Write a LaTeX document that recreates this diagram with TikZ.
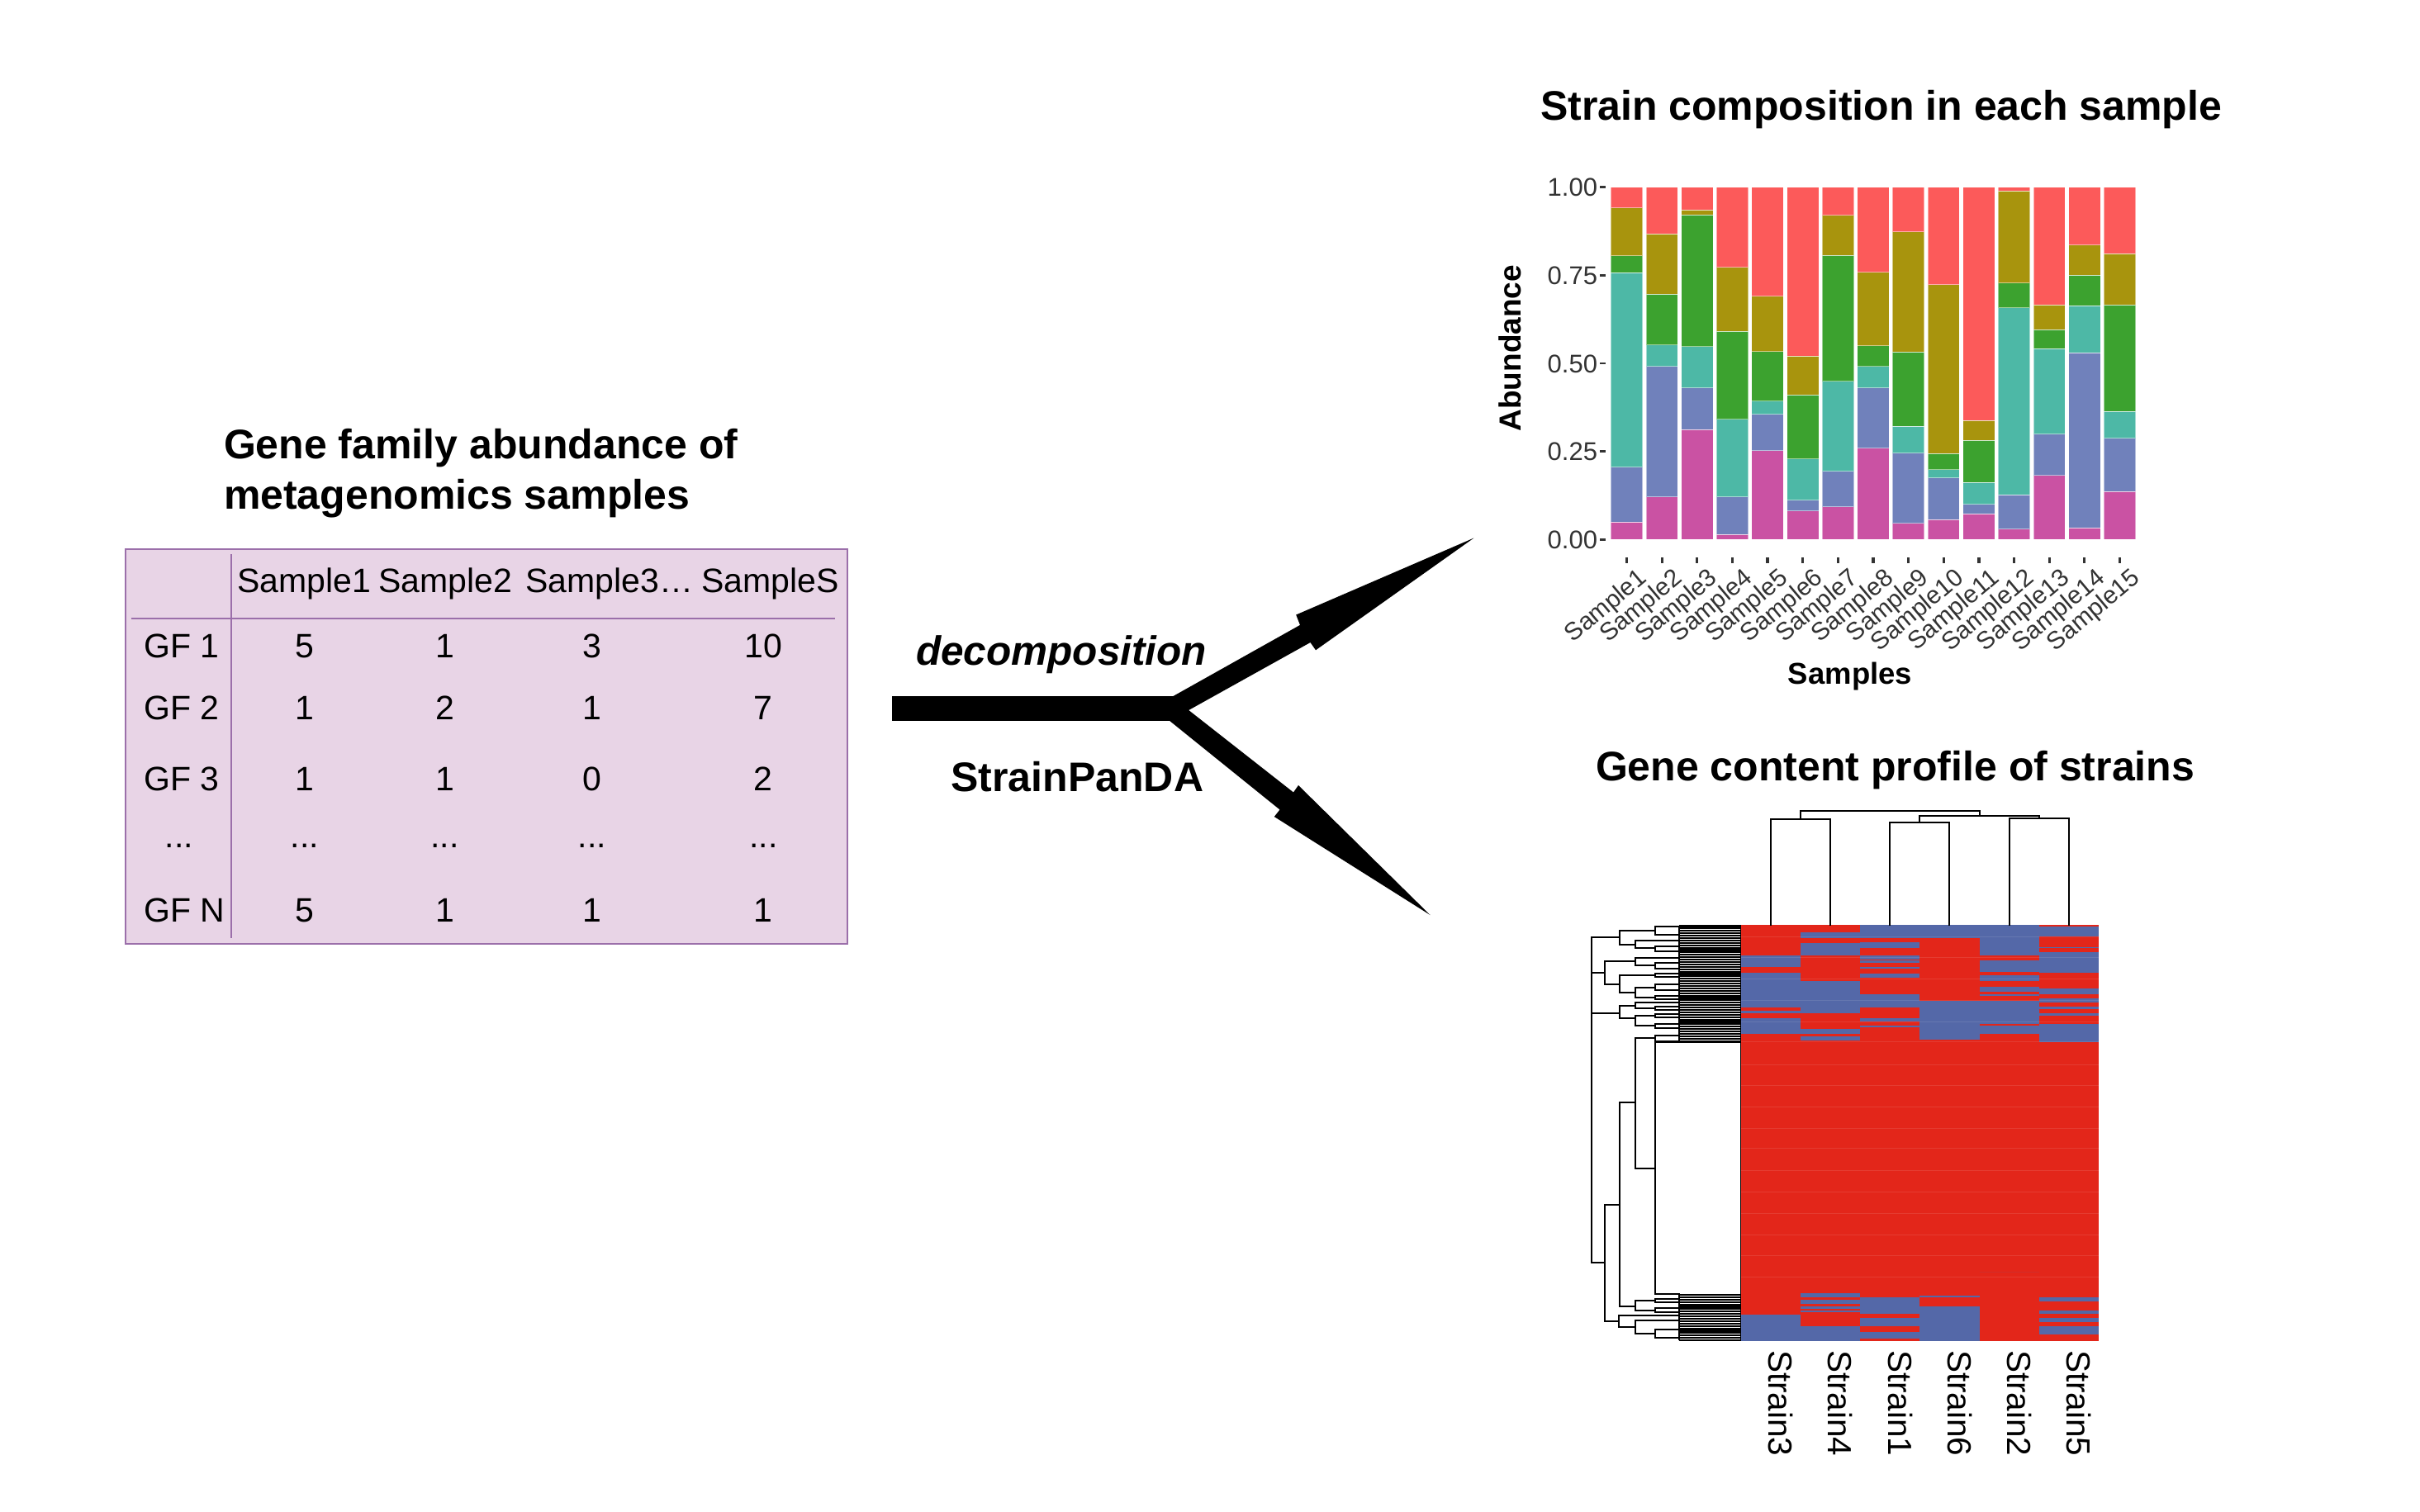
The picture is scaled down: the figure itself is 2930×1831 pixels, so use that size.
\documentclass[tikz,border=0pt]{standalone}
\usepackage{fontspec}
\setmainfont{Liberation Sans}
\newcommand\myfs[1]{\fontsize{#1pt}{#1pt}\selectfont}
\definecolor{cred}{HTML}{FC5A5A}
\definecolor{colive}{HTML}{A8940D}
\definecolor{cgreen}{HTML}{3CA22F}
\definecolor{cteal}{HTML}{4DB8A6}
\definecolor{cblue}{HTML}{7081BB}
\definecolor{cmag}{HTML}{CA52A3}
\definecolor{hred}{HTML}{E3261A}
\definecolor{hblue}{HTML}{5468A8}
\definecolor{tabfill}{HTML}{E8D4E6}
\definecolor{tabline}{HTML}{9B6FAA}
\definecolor{axgray}{HTML}{333333}
\begin{document}
\begin{tikzpicture}[x=0.5pt,y=-0.5pt,
  every node/.style={inner sep=0pt,outer sep=0pt},
  ttl/.style={font=\myfs{25}\bfseries},
  tab/.style={font=\myfs{20.5}},
  ylab/.style={font=\myfs{15.5},text=axgray,anchor=base east},
  xlab/.style={font=\myfs{15},text=axgray,anchor=north east,rotate=40},
  slab/.style={font=\myfs{20.25},anchor=base west,rotate=-90},
  dend/.style={line width=1pt,line cap=rect},
  leaf/.style={line width=1.05pt},
  seg/.style={draw=white,draw opacity=0.5,line width=0.4pt}]

\fill[white] (0,0) rectangle (2930,1831);
\useasboundingbox (0,0) rectangle (2930,1831);

% ---------------- table ----------------
\node[ttl,anchor=base west] (t1a) at (271,555.8) {Gene family abundance of};
\node[ttl,anchor=base west] (t1b) at (271,616) {metagenomics samples};
\draw[tabline,line width=1pt,fill=tabfill] (151.8,665.4) rectangle (1026,1143);
\draw[tabline,line width=1pt] (280.4,671) -- (280.4,1135.7);
\draw[tabline,line width=1pt] (158.9,749) -- (1011,749);
\node[tab,anchor=base] (h1) at (368.5,717) {Sample1};
\node[tab,anchor=base] (h2) at (539.5,717) {Sample2};
\node[tab,anchor=base] (h3) at (738,717) {Sample3…};
\node[tab,anchor=base] (h4) at (932.5,717) {SampleS};
\foreach \r/\y/\lab/\va/\vb/\vc/\vd in {1/796.4/GF 1/5/1/3/10, 2/871.5/GF 2/1/2/1/7, 3/957.4/GF 3/1/1/0/2, 5/1116.3/GF N/5/1/1/1}{
  \node[tab,anchor=base west] (r\r) at (174.2,\y) {\lab};
  \node[tab,anchor=base] (v\r a) at (368.8,\y) {\va};
  \node[tab,anchor=base] (v\r b) at (538.6,\y) {\vb};
  \node[tab,anchor=base] (v\r c) at (716.7,\y) {\vc};
  \node[tab,anchor=base] (v\r d) at (924.3,\y) {\vd};
}
\node[tab,anchor=base] (r4) at (216.7,1026) {...};
\node[tab,anchor=base] (v4a) at (368.8,1026) {...};
\node[tab,anchor=base] (v4b) at (538.6,1026) {...};
\node[tab,anchor=base] (v4c) at (716.7,1026) {...};
\node[tab,anchor=base] (v4d) at (924.3,1026) {...};

% ---------------- branching arrow ----------------
\coordinate (arrstart) at (1080,857.8);
\fill[black] (1080,843) -- (1420.5,843) -- (1574,756.9) -- (1569.2,744.5) -- (1784.5,651.5)
  -- (1593,787.3) -- (1586.5,778) -- (1439.2,860) -- (1566,959.5) -- (1572,951)
  -- (1731.5,1108) -- (1542.8,989) -- (1549.5,980.5) -- (1416,872.8) -- (1080,872.8) -- cycle;
\node[font=\myfs{24.75}\bfseries\itshape,anchor=base west] (dec) at (1109,805.5) {decomposition};
\node[font=\myfs{25}\bfseries,anchor=base west] (spd) at (1151.5,958.5) {StrainPanDA};

% ---------------- bar chart ----------------
\node[ttl,anchor=base west] (t2) at (1865,145) {Strain composition in each sample};
\foreach \i/\m/\b/\t/\g/\o in {0/0.049/0.205/0.757/0.805/0.941, 1/0.121/0.491/0.552/0.696/0.867,
  2/0.3125/0.430/0.548/0.922/0.936, 3/0.014/0.121/0.341/0.591/0.773, 4/0.252/0.355/0.393/0.534/0.691,
  5/0.081/0.112/0.229/0.410/0.521, 6/0.093/0.194/0.449/0.807/0.920, 7/0.259/0.430/0.491/0.550/0.759,
  8/0.046/0.245/0.322/0.532/0.873, 9/0.057/0.175/0.198/0.244/0.723, 10/0.073/0.100/0.1625/0.281/0.338,
  11/0.030/0.127/0.658/0.728/0.990, 12/0.182/0.299/0.542/0.595/0.666, 13/0.033/0.530/0.664/0.750/0.836,
  14/0.136/0.2875/0.363/0.666/0.811}{
  \pgfmathsetmacro\cx{1969.5+\i*42.64}
  \pgfmathsetmacro\xl{\cx-19.2}
  \pgfmathsetmacro\xr{\cx+19.2}
  \pgfmathsetmacro\ym{653.3-\m*426.6}
  \pgfmathsetmacro\yb{653.3-\b*426.6}
  \pgfmathsetmacro\yt{653.3-\t*426.6}
  \pgfmathsetmacro\yg{653.3-\g*426.6}
  \pgfmathsetmacro\yo{653.3-\o*426.6}
  \path[seg,fill=cmag] (\xl,653.3) rectangle (\xr,\ym);
  \path[seg,fill=cblue] (\xl,\ym) rectangle (\xr,\yb);
  \path[seg,fill=cteal] (\xl,\yb) rectangle (\xr,\yt);
  \path[seg,fill=cgreen] (\xl,\yt) rectangle (\xr,\yg);
  \path[seg,fill=colive] (\xl,\yg) rectangle (\xr,\yo);
  \path[seg,fill=cred] (\xl,\yo) rectangle (\xr,226.7);
  \draw[axgray,line width=1.6pt] (\cx,675) -- (\cx,682);
  \pgfmathtruncatemacro\n{\i+1}
  \node[xlab] (xl\n) at (\cx+12,686) {Sample\n};
}
\foreach \v/\lab in {0/0.00,0.25/0.25,0.5/0.50,0.75/0.75,1/1.00}{
  \pgfmathsetmacro\yy{653.3-\v*426.6}
  \draw[axgray,line width=1.4pt] (1937.4,\yy) -- (1943.5,\yy);
  \node[ylab] (yl\lab) at (1934,\yy+11) {\lab};
}
\node[font=\myfs{18.5}\bfseries,rotate=90,anchor=base] (abund) at (1841,421.7) {Abundance};
\node[font=\myfs{18.25}\bfseries,anchor=base] (samp) at (2240,828.3) {Samples};

% ---------------- heatmap ----------------
\node[ttl,anchor=base west] (t3) at (1932,945) {Gene content profile of strains};
\fill[hred] (2107.5,1120) rectangle (2541,1624.3);
\foreach \c/\tl/\bl in {
  0/{155/197,218/345,358/366,385/440}/{157/253},
  1/{73/93,112/155,249/366,423/442,449/465}/{77/93,102/118,125/135,140/148,197/253},
  2/{45/93,107/130,155/170,175/184,197/204,222/238,297/345,385/397,410/417}/{93/153,168/197,220/243},
  3/{45/93,320/461}/{87/93,125/253},
  4/{45/155,174/217,228/250,270/287,296/303,320/405,412/441}/{0/0},
  5/{52/87,125/130,144/218,275/297,312/328,343/351,366/376,405/471}/{93/107,140/153,168/184,197/228}}{
  \pgfmathsetmacro\hx{2107.5+\c*72.25}
  \pgfmathsetmacro\hxr{\hx+72.25}
  \foreach \a/\b in \tl {\fill[hblue] (\hx,{1105+\a/3}) rectangle (\hxr,{1105+\b/3});}
  \foreach \a/\b in \bl {\fill[hblue] (\hx,{1540+\a/3}) rectangle (\hxr,{1540+\b/3});}
}
\foreach \y in {1134.3,1159.3,1185,1211.7,1237.3,1261.7,1289.3,1314,1340,1366,1390.7,1417.3,1443.3,1469,1495,1520.7,1546.7}{
  \draw[white,opacity=0.1,line width=0.5pt] (2108,\y) -- (2541,\y);
}
\draw[black,line width=0.9pt] (2107.5,1120) -- (2107.5,1624.3);
\foreach \c/\s in {0/3,1/4,2/1,3/6,4/2,5/5}{
  \node[slab] (s\s) at ({2107.5+(\c+0.5)*72.25-2},1635) {Strain\s};
}
% column dendrogram
\draw[dend] (2143.6,1120) -- (2143.6,992.3) -- (2215.9,992.3) -- (2215.9,1120);
\draw[dend] (2288.1,1120) -- (2288.1,996.3) -- (2360.4,996.3) -- (2360.4,1120);
\draw[dend] (2432.6,1120) -- (2432.6,990.7) -- (2504.9,990.7) -- (2504.9,1120);
\draw[dend] (2324.25,996.3) -- (2324.25,987.7) -- (2468.75,987.7) -- (2468.75,990.7);
\draw[dend] (2179.75,992.3) -- (2179.75,982.3) -- (2396.5,982.3) -- (2396.5,987.7);

% row dendrogram: leaves
\foreach \k in {0,...,48}{\draw[leaf] (2033.3,{1121.5+2.9*\k}) -- (2107,{1121.5+2.9*\k});}
\foreach \k in {0,...,19}{\draw[leaf] (2033.3,{1568+2.9*\k}) -- (2107,{1568+2.9*\k});}
\draw[leaf] (2033.3,1121.5) -- (2033.3,1260.7);
\draw[leaf] (2033.3,1566.7) -- (2033.3,1623.1);
% row dendrogram: inner structure
\draw[dend]
 % cluster A
 (1926.7,1135) -- (1960.7,1135)
 (1960.7,1127.3) -- (1960.7,1144)
 (1960.7,1127.3) -- (2004,1127.3)
 (2004,1121.7) -- (2004,1131.7)
 (2004,1121.7) -- (2033.3,1121.7) (2004,1131.7) -- (2033.3,1131.7)
 (1960.7,1144) -- (1980,1144)
 (1980,1139.3) -- (1980,1148.3)
 (1980,1139.3) -- (2033.3,1139.3)
 (1980,1148.3) -- (2004,1148.3)
 (2004,1145.7) -- (2004,1151.7)
 (2004,1145.7) -- (2033.3,1145.7) (2004,1151.7) -- (2033.3,1151.7)
 % cluster B
 (1926.7,1177.7) -- (1942.7,1177.7)
 (1942.7,1164.3) -- (1942.7,1191.7)
 (1942.7,1164.3) -- (1980,1164.3)
 (1980,1160) -- (1980,1169)
 (1980,1160) -- (2033.3,1160)
 (1980,1169) -- (2004,1169)
 (2004,1166) -- (2004,1172.7)
 (2004,1166) -- (2033.3,1166) (2004,1172.7) -- (2033.3,1172.7)
 (1942.7,1191.7) -- (1960.7,1191.7)
 (1960.7,1181) -- (1960.7,1201.7)
 (1960.7,1181) -- (2004,1181)
 (2004,1179) -- (2004,1183.3)
 (2004,1179) -- (2033.3,1179) (2004,1183.3) -- (2033.3,1183.3)
 (1960.7,1201.7) -- (1980,1201.7)
 (1980,1195.7) -- (1980,1208.3)
 (1980,1195.7) -- (2004,1195.7)
 (2004,1192.3) -- (2004,1199)
 (2004,1192.3) -- (2033.3,1192.3) (2004,1199) -- (2033.3,1199)
 (1980,1208.3) -- (2004,1208.3)
 (2004,1206) -- (2004,1210)
 (2004,1206) -- (2033.3,1206) (2004,1210) -- (2033.3,1210)
 % cluster C
 (1926.7,1226.7) -- (1960.7,1226.7)
 (1960.7,1218.3) -- (1960.7,1233.3)
 (1960.7,1218.3) -- (1980,1218.3)
 (1980,1214.3) -- (1980,1221)
 (1980,1214.3) -- (2033.3,1214.3)
 (1980,1221) -- (2004,1221)
 (2004,1219.3) -- (2004,1223.3)
 (2004,1219.3) -- (2033.3,1219.3) (2004,1223.3) -- (2033.3,1223.3)
 (1960.7,1233.3) -- (1980,1233.3)
 (1980,1230) -- (1980,1241.7)
 (1980,1230) -- (2004,1230)
 (2004,1228.3) -- (2004,1231.7)
 (2004,1228.3) -- (2033.3,1228.3) (2004,1231.7) -- (2033.3,1231.7)
 (1980,1241.7) -- (2004,1241.7)
 (2004,1240) -- (2004,1245)
 (2004,1240) -- (2033.3,1240) (2004,1245) -- (2033.3,1245)
 % root and lower part
 (1926.7,1135) -- (1926.7,1529.3)
 (1926.7,1529.3) -- (1943,1529.3)
 (1943,1459) -- (1943,1600)
 (1943,1459) -- (1960.8,1459)
 (1943,1600) -- (1960.4,1600)
 (1960.8,1335) -- (1960.8,1582)
 (1960.8,1335) -- (1980.3,1335)
 (1980.3,1257.3) -- (1980.3,1415)
 (1980.3,1257.3) -- (2004,1257.3)
 (2004,1254) -- (2004,1260.5)
 (2004,1254) -- (2033.3,1254) (2004,1260.5) -- (2033.3,1260.5)
 (1980.3,1415) -- (2004,1415)
 (2004,1262.3) -- (2004,1566.7)
 (2004,1262.3) -- (2107,1262.3)
 (2004,1566.7) -- (2033.3,1566.7)
 (1960.8,1582) -- (1980,1582)
 (1980,1575) -- (1980,1586.7)
 (1980,1575) -- (2004,1575)
 (2004,1572.7) -- (2004,1577.3)
 (2004,1572.7) -- (2033.3,1572.7) (2004,1577.3) -- (2033.3,1577.3)
 (1980,1586.7) -- (2004,1586.7)
 (2004,1584) -- (2004,1588.7)
 (2004,1584) -- (2033.3,1584) (2004,1588.7) -- (2033.3,1588.7)
 (1960.4,1592.7) -- (1960.4,1606.7)
 (1960.4,1592.7) -- (2033.3,1592.7)
 (1960.4,1606.7) -- (1980,1606.7)
 (1980,1599.3) -- (1980,1615)
 (1980,1599.3) -- (2033.3,1599.3)
 (1980,1615) -- (2004,1615)
 (2004,1610) -- (2004,1620)
 (2004,1610) -- (2033.3,1610) (2004,1620) -- (2033.3,1620);
\end{tikzpicture}
\end{document}
